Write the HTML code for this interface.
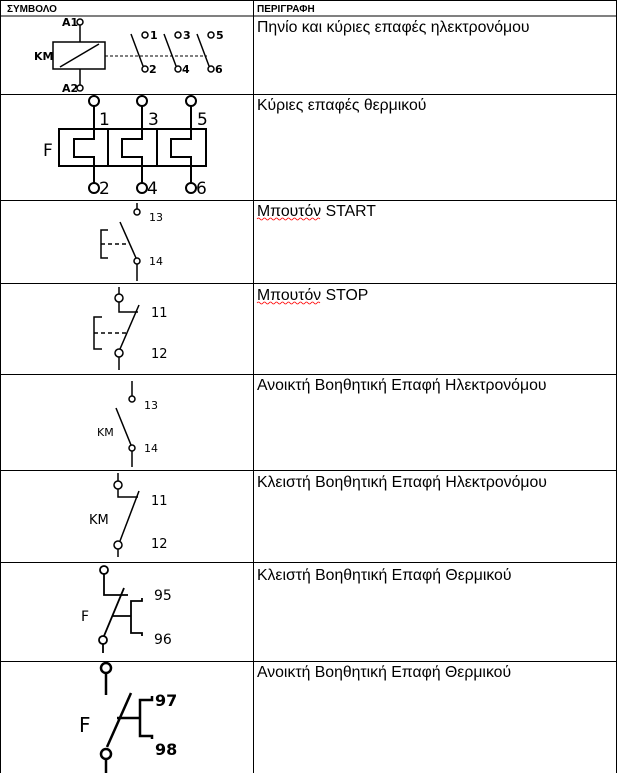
<!DOCTYPE html>
<html><head><meta charset="utf-8"><style>
html,body{margin:0;padding:0;background:#fff}
svg{display:block}
.d{font-family:"DejaVu Sans","Liberation Sans",sans-serif;fill:#000}
.t{font-family:"Liberation Sans","DejaVu Sans",sans-serif;font-size:15.8px;fill:#000}
.h{font-family:"Liberation Sans",sans-serif;font-size:10px;font-weight:bold;fill:#000}
</style></head><body>
<svg width="617" height="773" viewBox="0 0 617 773" xmlns="http://www.w3.org/2000/svg">
<g stroke="#000" stroke-width="1" fill="none">
<line x1="0" y1="0.5" x2="617" y2="0.5"/>
<line x1="0" y1="16" x2="617" y2="16"/>
<line x1="0" y1="94.5" x2="617" y2="94.5"/>
<line x1="0" y1="200.5" x2="617" y2="200.5"/>
<line x1="0" y1="283.5" x2="617" y2="283.5"/>
<line x1="0" y1="374.5" x2="617" y2="374.5"/>
<line x1="0" y1="470.5" x2="617" y2="470.5"/>
<line x1="0" y1="562.5" x2="617" y2="562.5"/>
<line x1="0" y1="661.5" x2="617" y2="661.5"/>
<line x1="0.5" y1="0" x2="0.5" y2="773"/>
<line x1="253.5" y1="0" x2="253.5" y2="773"/>
<line x1="616.5" y1="0" x2="616.5" y2="773"/>
</g>
<text class="h" x="7" y="12">ΣΥΜΒΟΛΟ</text>
<text class="h" x="257" y="12">ΠΕΡΙΓΡΑΦΗ</text>
<text class="t" x="257" y="32">Πηνίο και κύριες επαφές ηλεκτρονόμου</text>
<text class="t" x="257" y="110">Κύριες επαφές θερμικού</text>
<text class="t" x="257" y="216">Μπουτόν START</text>
<text class="t" x="257" y="300">Μπουτόν STOP</text>
<text class="t" x="257" y="390">Ανοικτή Βοηθητική Επαφή Ηλεκτρονόμου</text>
<text class="t" x="257" y="487">Κλειστή Βοηθητική Επαφή Ηλεκτρονόμου</text>
<text class="t" x="257" y="580">Κλειστή Βοηθητική Επαφή Θερμικού</text>
<text class="t" x="257" y="677">Ανοικτή Βοηθητική Επαφή Θερμικού</text>
<path d="M257 219 q1.5 -2 3 0 t3 0 t3 0 t3 0 t3 0 t3 0 t3 0 t3 0 t3 0 t3 0 t3 0 t3 0 t3 0 t3 0 t3 0 t3 0 t3 0 t3 0 t3 0 t3 0 t3 0" stroke="red" fill="none" stroke-width="0.8"/>
<path d="M257 303 q1.5 -2 3 0 t3 0 t3 0 t3 0 t3 0 t3 0 t3 0 t3 0 t3 0 t3 0 t3 0 t3 0 t3 0 t3 0 t3 0 t3 0 t3 0 t3 0 t3 0 t3 0 t3 0" stroke="red" fill="none" stroke-width="0.8"/>

<!-- Row1 -->
<g stroke="#000" stroke-width="1.5" fill="none">
<circle cx="80" cy="22" r="3"/><line x1="80" y1="25" x2="80" y2="42"/>
<rect x="53" y="42" width="52" height="27"/><line x1="60" y1="67" x2="99" y2="44"/>
<line x1="80" y1="69" x2="80" y2="85"/><circle cx="80" cy="88" r="3"/>
<line x1="105" y1="56" x2="207" y2="56" stroke-dasharray="3,2" stroke-width="1"/>
<line x1="131" y1="34" x2="143" y2="66"/><circle cx="145" cy="69" r="3"/><circle cx="145" cy="35" r="3"/>
<line x1="164" y1="34" x2="176" y2="66"/><circle cx="178" cy="69" r="3"/><circle cx="178" cy="35" r="3"/>
<line x1="197" y1="34" x2="209" y2="66"/><circle cx="211" cy="69" r="3"/><circle cx="211" cy="35" r="3"/>
</g>
<g class="d" font-size="11" font-weight="bold">
<text x="62" y="26">A1</text><text x="62" y="92">A2</text><text x="34" y="60">KM</text>
<text x="150" y="39">1</text><text x="149" y="73">2</text>
<text x="183" y="39">3</text><text x="182" y="73">4</text>
<text x="216" y="39">5</text><text x="215" y="73">6</text>
</g>

<!-- Row2 -->
<g stroke="#000" stroke-width="2" fill="none">
<rect x="59" y="129" width="147" height="37"/>
<line x1="108" y1="129" x2="108" y2="166"/><line x1="157" y1="129" x2="157" y2="166"/>
<circle cx="94" cy="101" r="5"/><path d="M94 106 V139 H74 V157 H94 V183"/><circle cx="94" cy="188" r="5"/>
<circle cx="142" cy="101" r="5"/><path d="M142 106 V139 H122 V157 H142 V183"/><circle cx="142" cy="188" r="5"/>
<circle cx="191" cy="101" r="5"/><path d="M191 106 V139 H171 V157 H191 V183"/><circle cx="191" cy="188" r="5"/>
</g>
<g class="d" font-size="17">
<text x="43" y="156">F</text>
<text x="99" y="125">1</text><text x="99" y="194">2</text>
<text x="148" y="125">3</text><text x="147" y="194">4</text>
<text x="197" y="125">5</text><text x="196" y="194">6</text>
</g>

<!-- Row3 START -->
<g stroke="#000" stroke-width="1.5" fill="none">
<line x1="137" y1="203" x2="137" y2="209"/><circle cx="137" cy="212" r="3"/>
<line x1="120" y1="222" x2="136" y2="258"/><circle cx="137" cy="261" r="3"/>
<line x1="137" y1="264" x2="137" y2="281"/>
<path d="M108 230 H101 V258 H108"/>
<line x1="101" y1="244" x2="129" y2="244" stroke-dasharray="4,3"/>
</g>
<g class="d" font-size="11"><text x="149" y="221">13</text><text x="149" y="265">14</text></g>

<!-- Row4 STOP -->
<g stroke="#000" stroke-width="1.5" fill="none">
<line x1="119" y1="287" x2="119" y2="294"/><circle cx="119" cy="298" r="4"/>
<path d="M119 302 V312 H138"/>
<line x1="139" y1="305" x2="120" y2="349"/><circle cx="119" cy="353" r="4"/>
<line x1="119" y1="357" x2="119" y2="370"/>
<path d="M102 317 H94 V349 H102"/>
<line x1="94" y1="333" x2="128" y2="333" stroke-dasharray="4,3"/>
</g>
<g class="d" font-size="13"><text x="151" y="317">11</text><text x="151" y="358">12</text></g>

<!-- Row5 -->
<g stroke="#000" stroke-width="1.5" fill="none">
<line x1="132" y1="381" x2="132" y2="396"/><circle cx="132" cy="399" r="3"/>
<line x1="116" y1="408" x2="131" y2="445"/><circle cx="132" cy="448" r="3"/>
<line x1="132" y1="451" x2="132" y2="467"/>
</g>
<g class="d" font-size="11"><text x="144" y="409">13</text><text x="144" y="452">14</text><text x="97" y="436">KM</text></g>

<!-- Row6 -->
<g stroke="#000" stroke-width="1.5" fill="none">
<line x1="118" y1="473" x2="118" y2="481"/><circle cx="118" cy="485" r="4"/>
<path d="M118 489 V497 H138"/>
<line x1="139" y1="491" x2="120" y2="541"/><circle cx="118" cy="545" r="4"/>
<line x1="118" y1="549" x2="118" y2="557"/>
</g>
<g class="d" font-size="13"><text x="151" y="505">11</text><text x="151" y="548">12</text><text x="89" y="524">KM</text></g>

<!-- Row7 -->
<g stroke="#000" stroke-width="1.8" fill="none">
<circle cx="104" cy="570" r="4"/><path d="M104 574 V595 H128"/>
<line x1="124" y1="588" x2="104" y2="636"/><circle cx="103" cy="640" r="4"/>
<line x1="103" y1="644" x2="103" y2="653"/>
<line x1="113" y1="616" x2="131" y2="616"/>
<path d="M142 598 V601 H131 V633 H142 V636"/>
</g>
<g class="d" font-size="14"><text x="154" y="600">95</text><text x="154" y="644">96</text><text x="81" y="621">F</text></g>

<!-- Row8 -->
<g stroke="#000" stroke-width="2.5" fill="none">
<circle cx="106" cy="668" r="5"/><line x1="106" y1="673" x2="106" y2="695"/>
<line x1="131" y1="693" x2="107" y2="747"/><circle cx="106" cy="754" r="5"/>
<line x1="106" y1="759" x2="106" y2="773"/>
<line x1="117" y1="718" x2="140" y2="718"/>
<path d="M152 696 V700 H140 V736 H152 V739"/>
</g>
<g class="d" font-size="16" font-weight="bold"><text x="155" y="706">97</text><text x="155" y="755">98</text></g>
<text class="d" font-size="20" x="79" y="732">F</text>
</svg>
</body></html>
